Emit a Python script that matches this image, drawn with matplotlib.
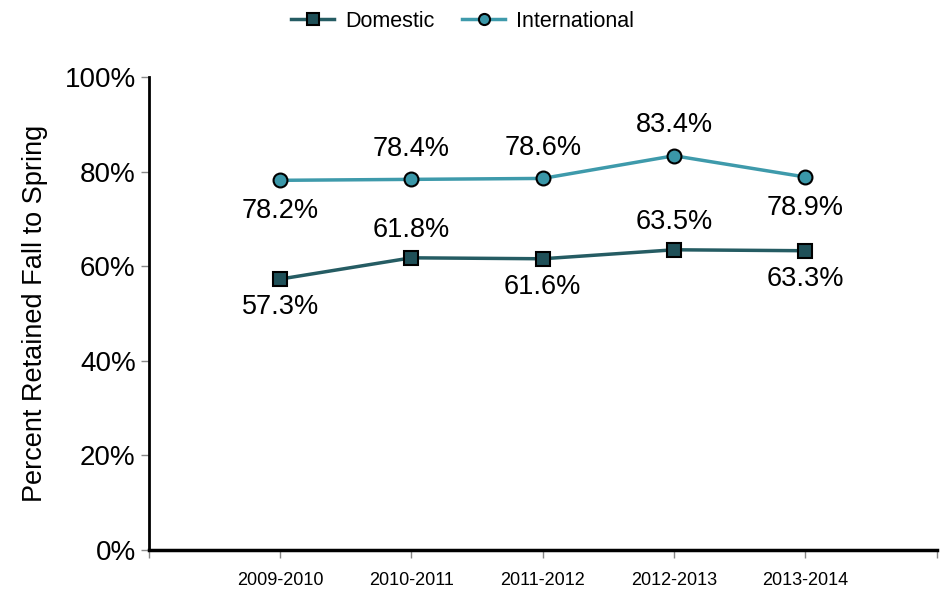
import matplotlib.pyplot as plt
import numpy as np

plt.rcParams['font.family'] = ['Liberation Sans', 'DejaVu Sans']

# data
years = ['2009-2010', '2010-2011', '2011-2012', '2012-2013', '2013-2014']
domestic = [57.3, 61.8, 61.6, 63.5, 63.3]
international = [78.2, 78.4, 78.6, 83.4, 78.9]
# label placement: +1 above, -1 below
dom_pos = [-1, 1, -1, 1, -1]
int_pos = [-1, 1, 1, 1, -1]

dom_line = '#255c63'
dom_fill = '#1f5058'
int_line = '#3e9aab'
int_fill = '#3a97a8'

fig = plt.figure(figsize=(9.48, 5.9), dpi=100)
ax = fig.add_axes([0.157, 0.068, 0.831, 0.801])

x = np.arange(1, len(years) + 1)
ax.plot(x, domestic, color=dom_line, linewidth=2.5, marker='s', markersize=10,
        markerfacecolor=dom_fill, markeredgecolor='black', markeredgewidth=1.5,
        label='Domestic')
ax.plot(x, international, color=int_line, linewidth=2.5, marker='o', markersize=10,
        markerfacecolor=int_fill, markeredgecolor='black', markeredgewidth=1.5,
        label='International')

for xi, v, p in zip(x, domestic, dom_pos):
    ax.annotate(f'{v:.1f}%', (xi, v), xytext=(0, 20 * p), textcoords='offset points',
                ha='center', va='center', fontsize=19.5)
for xi, v, p in zip(x, international, int_pos):
    ax.annotate(f'{v:.1f}%', (xi, v), xytext=(0, 22 * p), textcoords='offset points',
                ha='center', va='center', fontsize=19.5)

ax.set_xlim(0, 6)
ax.set_ylim(0, 100)
ax.set_xticks(np.arange(0, 7))
ax.set_xticklabels([''] + years + [''], fontsize=13)
ax.set_yticks(np.arange(0, 101, 20))
ax.set_yticklabels([f'{v}%' for v in range(0, 101, 20)], fontsize=20)
ax.tick_params(axis='both', direction='out', length=6, color='#888888', width=1)
ax.tick_params(axis='x', pad=10)
ax.set_ylabel('Percent Retained Fall to Spring', fontsize=19.5, labelpad=12)

for s in ['top', 'right']:
    ax.spines[s].set_visible(False)
ax.spines['left'].set_linewidth(2)
ax.spines['bottom'].set_linewidth(2.5)

fig.legend(loc='upper center', bbox_to_anchor=(0.488, 1.015), ncol=2, frameon=False,
           fontsize=15.5, handlelength=2.0, handletextpad=0.5, columnspacing=1.3,
           markerscale=0.8)

fig.savefig('out.png', dpi=100)
